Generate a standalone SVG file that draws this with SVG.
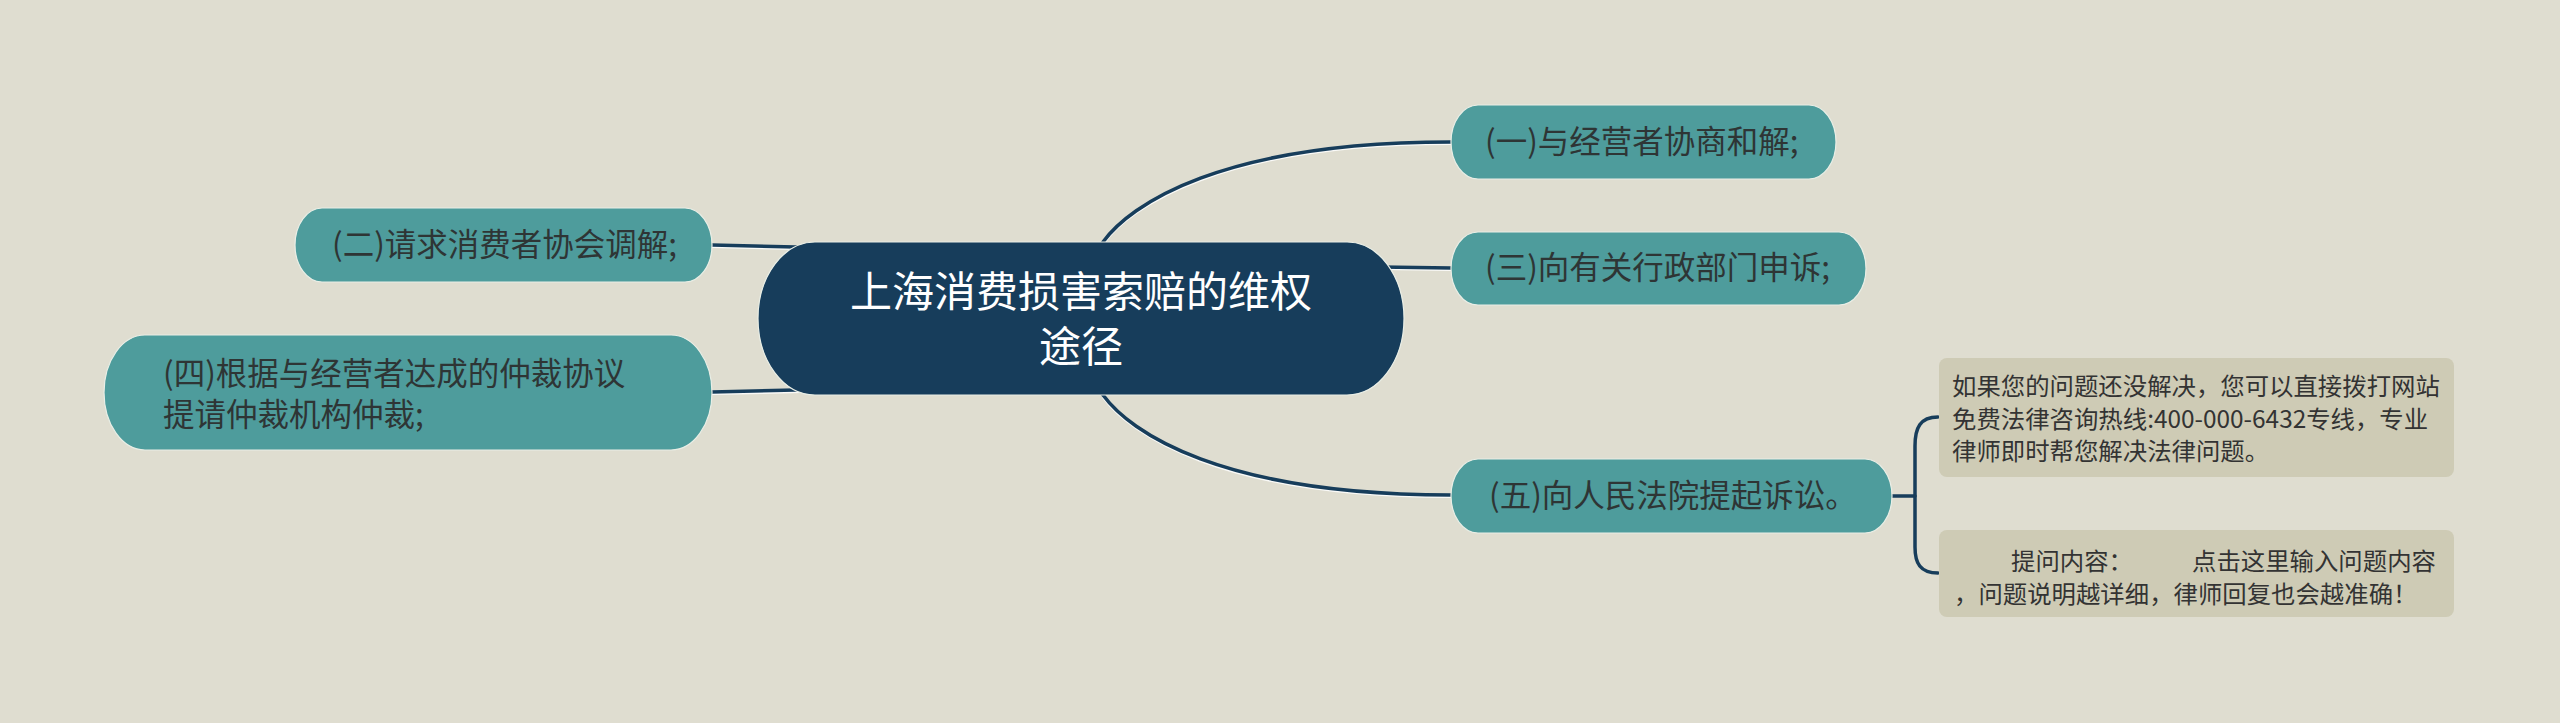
<svg xmlns="http://www.w3.org/2000/svg" width="2560" height="723" viewBox="0 0 2560 723">
<style>
text{font-family:"Microsoft YaHei","Noto Sans CJK SC","Noto Sans",sans-serif;}
.main{fill:#ffffff;font-size:42px;text-anchor:middle;}
.lvl{fill:#2e3535;font-size:31.5px;}
.note{fill:#333333;font-size:24.4px;}
.teal{fill:#4e9c9c;stroke:#e9eee6;stroke-width:1.2;}
.box{fill:#cecbb5;}
.ln{fill:none;stroke:#173d5b;stroke-width:3.5;stroke-linecap:round;}
.hl{fill:none;stroke:#ffffff;stroke-opacity:0.85;stroke-width:3;}
</style>
<rect x="0" y="0" width="2560" height="723" fill="#dfddd0"/>
<g id="connectors">
  <g transform="translate(0,1.6)">
    <path class="hl" d="M1103,242 C1130,205 1220,142 1451,142"/>
    <path class="hl" d="M1103,395 C1130,432 1220,495 1451,495"/>
    <path class="hl" d="M1380,267 L1451,268"/>
    <path class="hl" d="M712,245 L840,248"/>
    <path class="hl" d="M712,392 L840,389"/>
  </g>
  <path class="ln" d="M1103,242 C1130,205 1220,142 1451,142"/>
  <path class="ln" d="M1103,395 C1130,432 1220,495 1451,495"/>
  <path class="ln" d="M1380,267 L1451,268"/>
  <path class="ln" d="M712,245 L840,248"/>
  <path class="ln" d="M712,392 L840,389"/>
  <path class="ln" d="M1892,496 L1915,496"/>
  <path class="ln" d="M1938,417 C1920,417 1915,428 1915,446 L1915,547 C1915,563 1920,573 1938,573"/>
</g>
<g id="center">
  <rect x="758" y="242" width="646" height="153" rx="57" ry="76.5" fill="#173d5b" stroke="#e9eee6" stroke-width="1.2"/>
  <text class="main" x="1081" y="307">上海消费损害索赔的维权</text>
  <text class="main" x="1081" y="362">途径</text>
</g>
<g id="n1">
  <rect class="teal" x="1451" y="105" width="385" height="74" rx="27" ry="37"/>
  <text class="lvl" x="1485" y="153">(一)与经营者协商和解;</text>
</g>
<g id="n2">
  <rect class="teal" x="295" y="208" width="417" height="74" rx="27" ry="37"/>
  <text class="lvl" x="332" y="256">(二)请求消费者协会调解;</text>
</g>
<g id="n3">
  <rect class="teal" x="1451" y="232" width="415" height="73" rx="27" ry="36.5"/>
  <text class="lvl" x="1485" y="279">(三)向有关行政部门申诉;</text>
</g>
<g id="n4">
  <rect class="teal" x="104" y="335" width="608" height="115" rx="41" ry="57.5"/>
  <text class="lvl" x="163" y="385">(四)根据与经营者达成的仲裁协议</text>
  <text class="lvl" x="163" y="426">提请仲裁机构仲裁;</text>
</g>
<g id="n5">
  <rect class="teal" x="1451" y="459" width="441" height="74" rx="27" ry="37"/>
  <text class="lvl" x="1489" y="507">(五)向人民法院提起诉讼。</text>
</g>
<g id="note1">
  <rect class="box" x="1939" y="358" width="515" height="119" rx="8" ry="8"/>
  <text class="note" x="1952" y="395">如果您的问题还没解决，您可以直接拨打网站</text>
  <text class="note" x="1952" y="428">免费法律咨询热线:400-000-6432专线，专业</text>
  <text class="note" x="1952" y="460">律师即时帮您解决法律问题。</text>
</g>
<g id="note2">
  <rect class="box" x="1939" y="530" width="515" height="87" rx="8" ry="8"/>
  <text class="note" y="570"><tspan x="2011">提问内容：</tspan><tspan x="2192">点击这里输入问题内容</tspan></text>
  <text class="note" x="1954" y="603">，问题说明越详细，律师回复也会越准确！</text>
</g>
</svg>
